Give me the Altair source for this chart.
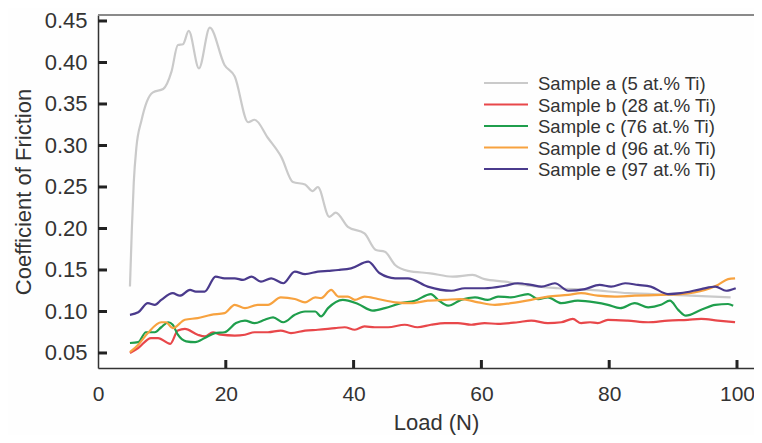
import altair as alt
import pandas as pd

series = ["Sample a (5 at.% Ti)", "Sample b (28 at.% Ti)", "Sample c (76 at.% Ti)",
          "Sample d (96 at.% Ti)", "Sample e (97 at.% Ti)"]
colors = ["#cacaca", "#e8474a", "#1f9e4c", "#f7a23f", "#4a3a8c"]

load_a = [5, 5.3, 5.6, 6, 6.8, 7.6, 8.6, 10.2, 11.5, 12.5, 13.3, 14.2, 15.8, 17.5, 19.8, 21.4, 23.5, 24.5,
          26.6, 28.7, 30.5, 32.4, 33.6, 34.4, 36.2, 37.2, 39.1, 41.7, 43.5, 44.9, 46.5, 48.5, 52, 55.5,
          58.6, 60.5, 63.7, 67.5, 72, 77, 83, 90, 99]
cof_a = [0.13, 0.2, 0.256, 0.297, 0.33, 0.352, 0.364, 0.368, 0.389, 0.421, 0.422, 0.438, 0.393, 0.442,
         0.397, 0.383, 0.328, 0.331, 0.309, 0.286, 0.256, 0.253, 0.245, 0.25, 0.214, 0.219, 0.202, 0.194,
         0.174, 0.172, 0.156, 0.149, 0.146, 0.142, 0.144, 0.139, 0.136, 0.131, 0.128, 0.126, 0.122, 0.12, 0.117]

load_b = [5, 6.3, 8.3, 9.4, 11.3, 12.5, 13.6, 15.6, 16.7, 18, 19.2, 21.4, 23, 24.5, 26.6, 28.6, 30.2, 32.4,
          34.4, 37.1, 38.6, 40.2, 41.7, 43.3, 45.4, 48, 50, 52.1, 54.3, 56.3, 58.4, 60.5, 62.6, 65.7, 67.8,
          70.4, 72.5, 74.3, 75.6, 77, 78.2, 79.8, 82.9, 86.1, 89.2, 92.3, 94.4, 97, 99.7]
cof_b = [0.050, 0.056, 0.068, 0.068, 0.061, 0.077, 0.079, 0.072, 0.070, 0.075, 0.072, 0.071, 0.072, 0.075,
         0.075, 0.077, 0.074, 0.077, 0.078, 0.080, 0.081, 0.078, 0.082, 0.081, 0.081, 0.084, 0.081, 0.084,
         0.086, 0.086, 0.084, 0.086, 0.085, 0.087, 0.089, 0.086, 0.087, 0.091, 0.086, 0.087, 0.086, 0.090,
         0.089, 0.087, 0.089, 0.090, 0.091, 0.089, 0.087]

load_c = [5, 6.3, 7.5, 8.9, 9.9, 11, 11.7, 12.5, 13.8, 15.2, 16.7, 18.3, 19.8, 21.6, 23, 24.5, 26.1, 27.4,
          29, 30.8, 32.4, 34, 34.9, 36, 38.3, 40.7, 43, 44.9, 47.4, 49.6, 52.1, 53.2, 54.8, 56.8, 59, 61,
          62.6, 64.6, 67.3, 68.9, 70.4, 72.5, 75.1, 77.8, 79.8, 81.7, 84, 86.1, 88.1, 89.5, 90.8, 92, 94.4,
          96.6, 98.6, 99.4]
cof_c = [0.062, 0.063, 0.075, 0.075, 0.081, 0.087, 0.084, 0.072, 0.064, 0.063, 0.068, 0.074, 0.075, 0.086,
         0.089, 0.086, 0.090, 0.093, 0.087, 0.096, 0.100, 0.100, 0.094, 0.104, 0.114, 0.109, 0.101, 0.104,
         0.110, 0.113, 0.121, 0.114, 0.107, 0.114, 0.117, 0.114, 0.118, 0.117, 0.121, 0.115, 0.117, 0.110,
         0.113, 0.111, 0.108, 0.104, 0.110, 0.105, 0.108, 0.113, 0.102, 0.095, 0.102, 0.108, 0.109, 0.107]

load_d = [5, 6.3, 7.8, 9.9, 10.6, 11.7, 13.6, 15.6, 17.7, 19.8, 21.4, 23, 25, 26.6, 28.6, 30.8, 32.4, 34,
          34.9, 36.5, 37.6, 39.1, 40.2, 41.7, 43.8, 46.5, 49, 51.6, 54.3, 56.8, 59.5, 62.1, 64.6, 67.8,
          70.4, 73.6, 75.6, 78.2, 80.9, 84, 88.1, 91.2, 95, 97, 98.6, 99.7]
cof_d = [0.051, 0.060, 0.074, 0.087, 0.087, 0.080, 0.090, 0.092, 0.096, 0.098, 0.108, 0.104, 0.108, 0.108,
         0.117, 0.115, 0.111, 0.117, 0.116, 0.126, 0.118, 0.118, 0.114, 0.118, 0.115, 0.111, 0.110, 0.113,
         0.114, 0.115, 0.111, 0.108, 0.110, 0.114, 0.118, 0.120, 0.122, 0.119, 0.118, 0.119, 0.120, 0.121,
         0.126, 0.132, 0.139, 0.140]

load_e = [5, 6.3, 7.8, 8.9, 9.9, 11.7, 12.8, 14.4, 15.3, 16.7, 18.4, 19.8, 21.4, 22.7, 24, 25.5, 27.1, 29,
          30.8, 32.4, 34.4, 36, 37.6, 39.6, 42.3, 44.1, 46.5, 48.5, 51.6, 55.3, 57.4, 60.5, 63.7, 65.7,
          67.8, 69.4, 71.5, 73.6, 76.2, 78.5, 80.3, 82.5, 84.5, 86.5, 89.2, 91.2, 94.4, 96.6, 98.3, 99.8]
cof_e = [0.096, 0.099, 0.110, 0.108, 0.114, 0.122, 0.119, 0.126, 0.124, 0.124, 0.142, 0.140, 0.140, 0.138,
         0.142, 0.136, 0.140, 0.134, 0.148, 0.145, 0.148, 0.149, 0.150, 0.152, 0.160, 0.146, 0.140, 0.140,
         0.130, 0.125, 0.128, 0.128, 0.131, 0.134, 0.132, 0.130, 0.134, 0.125, 0.127, 0.132, 0.130, 0.134,
         0.132, 0.130, 0.121, 0.122, 0.127, 0.130, 0.125, 0.128]

x_ticks = [0, 20, 40, 60, 80, 100]
y_ticks = [0.05, 0.10, 0.15, 0.20, 0.25, 0.30, 0.35, 0.40, 0.45]

rows = []
for name, xs, ys in zip(series, [load_a, load_b, load_c, load_d, load_e],
                        [cof_a, cof_b, cof_c, cof_d, cof_e]):
    for x, y in zip(xs, ys):
        rows.append({"series": name, "load": x, "cof": y})
df = pd.DataFrame(rows)

W, H = 656, 353
FONT = "Liberation Sans"
x_scale = alt.Scale(domain=[0, W / 6.39], nice=False, zero=False)
y_scale = alt.Scale(domain=[0.0319, 0.4572], nice=False, zero=False)
c_scale = alt.Scale(domain=series, range=colors)

lines = alt.Chart(df).mark_line(strokeWidth=2.2, interpolate="monotone").encode(
    x=alt.X("load:Q", scale=x_scale,
            axis=alt.Axis(values=x_ticks, title="Load (N)", labelFlush=False, ticks=False,
                          labelFontSize=21, labelPadding=15, titlePadding=8, titleX=338,
                          format="d")),
    y=alt.Y("cof:Q", scale=y_scale,
            axis=alt.Axis(values=y_ticks, title="Coefficient of Friction", labelFlush=False,
                          ticks=False, labelPadding=11, titlePadding=9, format=".2f")),
    color=alt.Color("series:N", sort=series, scale=c_scale, legend=None),
)

ydf = pd.DataFrame({"v": y_ticks})
xdf = pd.DataFrame({"v": x_ticks[1:]})
yt = alt.Chart(ydf).mark_rule(strokeWidth=3, color="#222222").encode(
    y=alt.Y("v:Q", scale=y_scale, axis=None), x=alt.value(0), x2=alt.value(9))
xt = alt.Chart(xdf).mark_rule(strokeWidth=3, color="#222222").encode(
    x=alt.X("v:Q", scale=x_scale), y=alt.value(H), y2=alt.value(H - 8))
top = alt.Chart(ydf.head(1)).mark_rule(strokeWidth=2, color="#8a8a8a").encode(
    y=alt.value(0), x=alt.value(0), x2=alt.value(W))

ldf = pd.DataFrame({"series": series})
leg_y = alt.Y("series:N", sort=series, axis=None,
              scale=alt.Scale(type="point", domain=series, range=[68, 154], padding=0))
leg_sym = alt.Chart(ldf).mark_rule(strokeWidth=2.2).encode(
    y=leg_y, x=alt.value(386), x2=alt.value(430),
    color=alt.Color("series:N", sort=series, scale=c_scale, legend=None))
leg_txt = alt.Chart(ldf).mark_text(align="left", baseline="middle", font=FONT, fontSize=18.5,
                                   color="#333333", dy=1).encode(
    y=leg_y, x=alt.value(440), text="series:N")

chart = alt.layer(top, lines, yt, xt, leg_sym, leg_txt).resolve_scale(y="independent").properties(
    width=W, height=H,
    background="#fefefe",
    autosize=alt.AutoSizeParams(type="none"),
    padding={"left": 90, "top": 7, "right": 0, "bottom": 67},
).configure_view(stroke=None).configure_axis(
    grid=False, domainColor="#333333", domainWidth=1.5,
    labelFont=FONT, labelFontSize=22, labelColor="#333333",
    titleFont=FONT, titleFontSize=22, titleColor="#333333", titleFontWeight="normal",
)

chart.save("out.html", embed_options={"renderer": "svg", "actions": False})
